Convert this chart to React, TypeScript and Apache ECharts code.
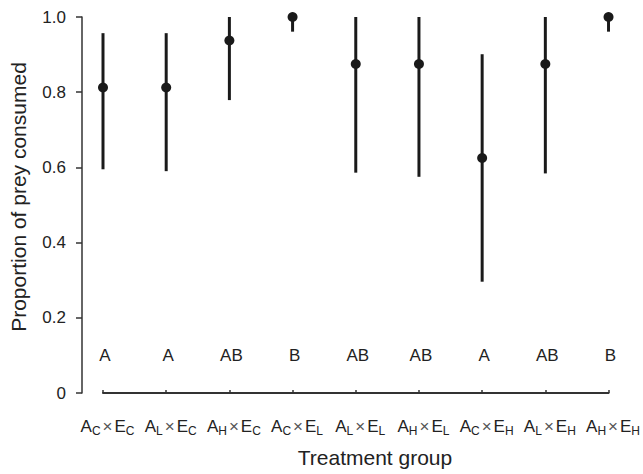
import React, { useEffect, useRef } from 'react';
import * as echarts from 'echarts';

// Treatment groups: A_<alarm level> × E_<environment level>
const categories = ['A_C×E_C', 'A_L×E_C', 'A_H×E_C', 'A_C×E_L', 'A_L×E_L', 'A_H×E_L', 'A_C×E_H', 'A_L×E_H', 'A_H×E_H'];
const means = [0.8125, 0.8125, 0.9375, 1.0, 0.875, 0.875, 0.625, 0.875, 1.0];
const lower = [0.595, 0.59, 0.779, 0.961, 0.586, 0.575, 0.296, 0.584, 0.961];
const upper = [0.957, 0.957, 1.0, 1.0, 1.0, 1.0, 0.901, 1.0, 1.0];
const letters = ['A', 'A', 'AB', 'B', 'AB', 'AB', 'A', 'AB', 'B'];
const letterLevel = 0.1;
const yTicks = [0, 0.2, 0.4, 0.6, 0.8, 1.0];

const FONT = "'Liberation Sans', Arial, Helvetica, sans-serif";
const INK = '#1a1a1a';
const TEXT = '#222';

export default function App() {
  const ref = useRef<HTMLDivElement>(null);

  useEffect(() => {
    if (!ref.current) return;
    const chart = echarts.init(ref.current, null, { renderer: 'svg' });

    const catFormatter = (val: string) => {
      const m = /^A_(\w)×E_(\w)$/.exec(val);
      if (!m) return val;
      return `{m|A}{s|${m[1]}}{x|×}{m|E}{s|${m[2]}}`;
    };

    const option: any = {
      animation: false,
      backgroundColor: '#ffffff',
      textStyle: { fontFamily: FONT },
      grid: { left: 103, right: 32, top: 17, bottom: 81, containLabel: false },
      xAxis: {
        type: 'category',
        data: categories,
        boundaryGap: false,
        offset: 15,
        axisLine: { show: true, lineStyle: { color: '#333', width: 2 } },
        axisTick: { show: true, inside: true, length: 3, lineStyle: { color: '#333', width: 1.5 } },
        axisLabel: {
          interval: 0,
          margin: 7,
          padding: [0, 0, 0, 9],
          formatter: catFormatter,
          rich: {
            m: { fontSize: 17, color: TEXT, fontFamily: FONT, lineHeight: 22 },
            s: { fontSize: 12, color: TEXT, fontFamily: FONT, lineHeight: 12, verticalAlign: 'bottom' },
            x: { fontSize: 17, color: '#555', fontFamily: FONT, lineHeight: 22, padding: [0, 2, 0, 2] },
          },
        },
        splitLine: { show: false },
      },
      yAxis: {
        type: 'value',
        min: yTicks[0],
        max: yTicks[yTicks.length - 1],
        interval: 0.2,
        offset: 21,
        axisLine: { show: true, lineStyle: { color: '#333', width: 1.5 } },
        axisTick: { show: true, length: 6, lineStyle: { color: '#333', width: 1.5 } },
        axisLabel: {
          margin: 16,
          fontSize: 17,
          color: TEXT,
          fontFamily: FONT,
          formatter: (v: number) => (v === 0 ? '0' : v.toFixed(1)),
        },
        splitLine: { show: false },
      },
      graphic: [
        {
          type: 'text',
          x: 18,
          y: 197,
          rotation: Math.PI / 2,
          style: {
            text: 'Proportion of prey consumed',
            fontSize: 21,
            fontFamily: FONT,
            fill: TEXT,
            textAlign: 'center',
            textVerticalAlign: 'middle',
          },
        },
        {
          type: 'text',
          x: 375,
          y: 457,
          style: {
            text: 'Treatment group',
            fontSize: 21,
            fontFamily: FONT,
            fill: TEXT,
            textAlign: 'center',
            textVerticalAlign: 'middle',
          },
        },
      ],
      series: [
        {
          type: 'custom',
          name: 'CI',
          data: categories.map((_, i) => [i, lower[i], upper[i]]),
          encode: { x: 0, y: [1, 2] },
          renderItem: (params: any, api: any) => {
            const i = api.value(0);
            const lo = api.coord([i, api.value(1)]);
            const hi = api.coord([i, api.value(2)]);
            return {
              type: 'line',
              shape: { x1: lo[0], y1: lo[1], x2: hi[0], y2: hi[1] },
              style: { stroke: INK, lineWidth: 3 },
            };
          },
          z: 2,
        },
        {
          type: 'scatter',
          name: 'Mean',
          data: categories.map((_, i) => [i, means[i]]),
          symbol: 'circle',
          symbolSize: 10,
          itemStyle: { color: INK, opacity: 1 },
          clip: false,
          z: 3,
        },
        {
          type: 'custom',
          name: 'Letters',
          data: letters.map((_, i) => [i, letterLevel]),
          encode: { x: 0, y: 1 },
          renderItem: (params: any, api: any) => {
            const p = api.coord([api.value(0), api.value(1)]);
            return {
              type: 'text',
              x: p[0] + 2,
              y: p[1],
              style: {
                text: letters[params.dataIndex],
                fontSize: 17,
                fontFamily: FONT,
                fill: TEXT,
                textAlign: 'center',
                textVerticalAlign: 'middle',
              },
            };
          },
          z: 2,
        },
      ],
    };

    chart.setOption(option);
    return () => chart.dispose();
  }, []);

  return (
    <div
      ref={ref}
      style={{ position: 'fixed', left: 0, top: 0, width: 643, height: 474, background: '#fff' }}
    />
  );
}
